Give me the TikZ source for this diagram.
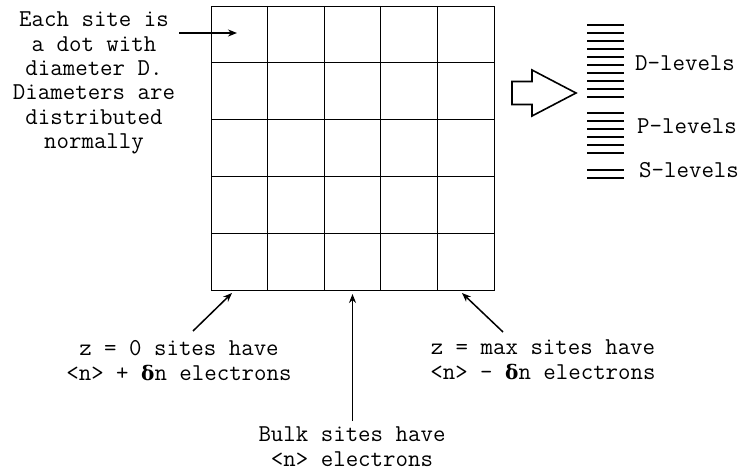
\documentclass[tikz,border=0pt]{standalone}
\usepackage{fontspec}
\newfontfamily\grk{DejaVu Serif}
\usetikzlibrary{arrows.meta}
\newcommand{\bdelta}{{\grk\bfseries\fontsize{20}{25}\selectfont δ}}
\begin{document}
\begin{tikzpicture}[x=1pt,y=-1pt,
  lbl/.style={font=\ttfamily\fontsize{24.2}{25}\selectfont, align=center, inner sep=0pt},
  sitelbl/.style={lbl, font=\ttfamily\fontsize{24.2}{24.4}\selectfont},
  lvltext/.style={font=\ttfamily\fontsize{24.2}{25}\selectfont, inner sep=0pt, anchor=mid west},
  ptr/.style={line width=1.5pt, -{Stealth[length=9pt,width=7pt]}},
  gridline/.style={line width=1pt},
  lvl/.style={line width=2pt},
  bigarrow/.style={line width=1.6pt, fill=white, line join=miter}]
\useasboundingbox (0,0) rectangle (741,473);
\fill[white] (0,0) rectangle (741,473);

% 5x5 lattice of sites
\node[draw, gridline, minimum width=283pt, minimum height=284pt, inner sep=0pt,
      anchor=north west] (grid) at (211,6) {};
\foreach \i in {1,...,4} {
  \draw[gridline] ({211+56.6*\i},6) -- ++(0,284);
  \draw[gridline] (211,{6+56.8*\i}) -- ++(283,0);
}

% description of a site
\node[sitelbl] (site) at (94,83) {Each site is\\a dot with\\diameter D.\\Diameters are\\distributed\\normally};
\coordinate (siteFrom) at (179,33);
\coordinate (siteTo) at (237,33);
\draw[ptr] (siteFrom) -- (siteTo);

% boundary and bulk annotations
\node[lbl] (zzero) at (179,361) {z = 0 sites have\\<n> + \bdelta n electrons};
\node[lbl] (zmax) at (543,360) {z = max sites have\\<n> - \bdelta n electrons};
\node[lbl] (bulk) at (352,447) {Bulk sites have\\<n> electrons};

\coordinate (zzeroFrom) at (193,331);
\coordinate (zzeroTo) at (232,293);
\coordinate (bulkFrom) at (352.5,421);
\coordinate (bulkTo) at (352.5,294);
\coordinate (zmaxFrom) at (503,332);
\coordinate (zmaxTo) at (462,293);
\draw[ptr] (zzeroFrom) -- (zzeroTo);
\draw[ptr] (bulkFrom) -- (bulkTo);
\draw[ptr] (zmaxFrom) -- (zmaxTo);

% hollow block arrow
\draw[bigarrow] (512,81.5) -- (532,81.5) -- (532,70) -- (576,93) -- (532,116)
  -- (532,104.5) -- (512,104.5) -- cycle;

% energy levels
\foreach \k in {0,...,9}
  \draw[lvl] (587,{25+8*\k}) -- (624,{25+8*\k});
\foreach \k in {0,...,5}
  \draw[lvl] (587,{113+8*\k}) -- (624,{113+8*\k});
\foreach \k in {0,1}
  \draw[lvl] (587,{170+8*\k}) -- (624,{170+8*\k});

\node[lvltext] (dlev) at (635,68) {D-levels};
\node[lvltext] (plev) at (637,131) {P-levels};
\node[lvltext] (slev) at (639,175) {S-levels};
\end{tikzpicture}
\end{document}
